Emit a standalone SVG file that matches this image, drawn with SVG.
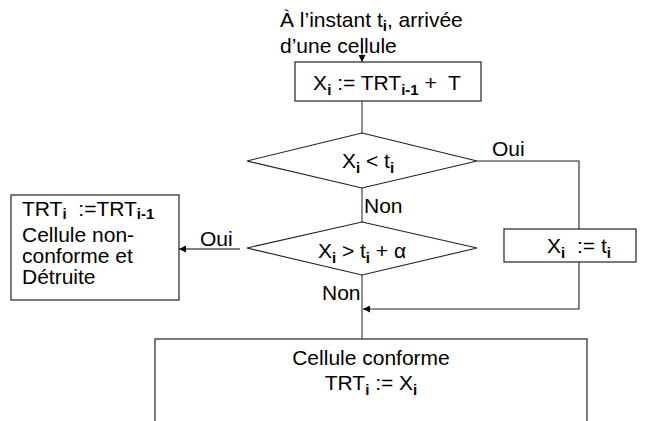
<svg xmlns="http://www.w3.org/2000/svg" width="646" height="421" viewBox="0 0 646 421">
<defs>
<style>
text{font-family:"Liberation Sans",Arial,sans-serif;font-size:21px;fill:#000}
.s{font-size:15px;font-weight:bold}
.box{fill:#fff;stroke:#333;stroke-width:1.3}
.dia{fill:#fff;stroke:#222;stroke-width:1.1}
.c{fill:none;stroke:#555;stroke-width:1.3}
.k{fill:none;stroke:#222;stroke-width:1.1}
</style>
<marker id="ah" viewBox="0 0 10 10" refX="10" refY="5" markerWidth="9" markerHeight="7" markerUnits="userSpaceOnUse" orient="auto">
<path d="M0,0 L10,5 L0,10 z" fill="#000"/>
</marker>
</defs>
<g id="connectors">
<line class="c" x1="362" y1="43" x2="362" y2="62" marker-end="url(#ah)"/>
<line class="c" x1="362" y1="101" x2="362" y2="133"/>
<polyline class="k" points="477,161 579,161 579,229"/>
<line class="c" x1="362" y1="188" x2="362" y2="222"/>
<line class="c" x1="240" y1="249" x2="179" y2="249" marker-end="url(#ah)"/>
<polyline class="k" points="579,262 579,309 363,309" marker-end="url(#ah)"/>
<line class="c" x1="362" y1="275" x2="362" y2="339"/>
<text x="492" y="156">Oui</text>
<text x="364" y="213">Non</text>
<text x="200" y="246">Oui</text>
<text x="322" y="300">Non</text>
</g>
<g id="start">
<text x="280" y="27">À l’instant t<tspan class="s" dy="4">i</tspan><tspan dy="-4">, arrivée</tspan></text>
<text x="280" y="53">d’une cellule</text>
</g>
<g id="calc">
<rect class="box" x="295" y="62" width="186" height="39"/>
<text x="387" y="90" text-anchor="middle" xml:space="preserve">X<tspan class="s" dy="5">i</tspan><tspan dy="-5"> := TRT</tspan><tspan class="s" dy="5">i-1</tspan><tspan dy="-5"> +  T</tspan></text>
</g>
<g id="test1">
<polygon class="dia" points="362,133 477,161 362,188 247,161"/>
<text x="368" y="168" text-anchor="middle">X<tspan class="s" dy="5">i</tspan><tspan dy="-5"> &lt; t</tspan><tspan class="s" dy="5">i</tspan></text>
</g>
<g id="assign">
<rect class="box" x="504" y="229" width="132" height="33"/>
<text x="579" y="253" text-anchor="middle" xml:space="preserve">X<tspan class="s" dy="5">i</tspan><tspan dy="-5">  := t</tspan><tspan class="s" dy="5">i</tspan></text>
</g>
<g id="test2">
<polygon class="dia" points="362,222 477,248 362,275 247,248"/>
<text x="362" y="258" text-anchor="middle">X<tspan class="s" dy="5">i</tspan><tspan dy="-5"> &gt; t</tspan><tspan class="s" dy="5">i</tspan><tspan dy="-5"> + α</tspan></text>
</g>
<g id="reject">
<rect class="box" x="11" y="195" width="168" height="105"/>
<text x="22" y="216" xml:space="preserve">TRT<tspan class="s" dy="3">i</tspan><tspan dy="-3">  :=TRT</tspan><tspan class="s" dy="3">i-1</tspan></text>
<text x="22" y="242">Cellule non-</text>
<text x="22" y="263">conforme et</text>
<text x="22" y="284">Détruite</text>
</g>
<g id="accept">
<rect class="box" x="155" y="339" width="432" height="100"/>
<text x="371" y="365" text-anchor="middle">Cellule conforme</text>
<text x="371" y="390" text-anchor="middle">TRT<tspan class="s" dy="5">i</tspan><tspan dy="-5"> := X</tspan><tspan class="s" dy="5">i</tspan></text>
</g>
</svg>
